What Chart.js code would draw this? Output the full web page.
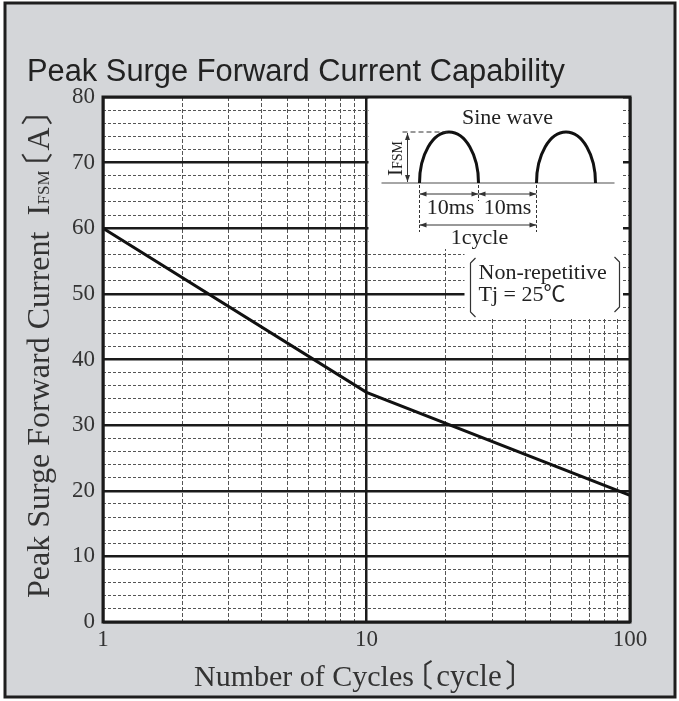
<!DOCTYPE html>
<html>
<head>
<meta charset="utf-8">
<script src="https://cdn.jsdelivr.net/npm/chart.js@4.4.1/dist/chart.umd.min.js"></script>
<style>
  html, body { margin: 0; padding: 0; background: #fff; }
  #wrap { width: 679px; height: 701px; }
</style>
</head>
<body>
<div id="wrap"><canvas id="surgeChart" width="679" height="701"></canvas></div>
<script>
// ---- values ----
const cycles = [1, 10, 100];
const ifsm = [60, 35, 19.3];
const xTickLabels = [1, 10, 100];
const yTickLabels = [0, 10, 20, 30, 40, 50, 60, 70, 80];

const titleText = "Peak Surge Forward Current Capability";
// [text, font size, gap before the ink of this run]
const xTitleRuns = [["Number of Cycles", 30, 0], ["〔", 31, 11], ["cycle", 31, 5], ["〕", 31, 5]];
const yTitleRuns = [["Peak Surge Forward Current", 32, 0], ["I", 32, 17], ["FSM", 17, 1],
                    ["〔", 32, 8], ["A", 32, 3], ["〕", 32, 3]];

const SERIF = '"Liberation Serif", "Noto Sans CJK JP", serif';
const SANS = '"Liberation Sans", Arial, sans-serif';
const INK = "#222";

// gridline positions on the log axis: 1..9, 10..90, 100
function logGrid(min, max) {
  const out = [];
  for (let d = min; d < max; d *= 10) {
    for (let m = 1; m <= 9; m++) out.push({ value: m * d });
  }
  out.push({ value: max });
  return out;
}

// minor gridlines every 2 A
function linGrid(min, max, step) {
  const out = [];
  for (let v = min; v <= max; v += step) out.push({ value: v });
  return out;
}

const isDecade = v => Math.abs(Math.log10(v) - Math.round(Math.log10(v))) < 1e-9;

// draws runs of text packed by their ink boxes, starting at u = 0 on the baseline
function drawRuns(ctx, runs) {
  let u = 0;
  runs.forEach(([txt, size, gap]) => {
    ctx.font = size + "px " + SERIF;
    const m = ctx.measureText(txt);
    u += gap;
    ctx.fillText(txt, u + m.actualBoundingBoxLeft, 0);
    u += m.actualBoundingBoxLeft + m.actualBoundingBoxRight;
  });
}

function arrowHead(ctx, x, y, dx, dy) {
  const len = 7, w = 2.5;
  ctx.beginPath();
  ctx.moveTo(x, y);
  ctx.lineTo(x - dx * len - dy * w, y - dy * len + dx * w);
  ctx.lineTo(x - dx * len + dy * w, y - dy * len - dx * w);
  ctx.closePath();
  ctx.fill();
}

function dimArrow(ctx, x1, y1, x2, y2) {
  const L = Math.hypot(x2 - x1, y2 - y1);
  const dx = (x2 - x1) / L, dy = (y2 - y1) / L;
  ctx.beginPath();
  ctx.moveTo(x1, y1);
  ctx.lineTo(x2, y2);
  ctx.stroke();
  arrowHead(ctx, x2, y2, dx, dy);
  arrowHead(ctx, x1, y1, -dx, -dy);
}

// page frame, grey card, white plot area, titles
const framePlugin = {
  id: "frame",
  beforeDraw(chart) {
    const { ctx, chartArea: ca } = chart;
    ctx.save();
    ctx.fillStyle = "#fff";
    ctx.fillRect(0, 0, chart.width, chart.height);
    ctx.fillStyle = "#d4d6d9";
    ctx.fillRect(5, 3, 670, 694);
    ctx.strokeStyle = "#1e1e1e";
    ctx.lineWidth = 3;
    ctx.strokeRect(5, 3, 670, 694);
    ctx.fillStyle = "#fff";
    ctx.fillRect(ca.left, ca.top, ca.right - ca.left, ca.bottom - ca.top);
    ctx.restore();
  },
  afterDraw(chart) {
    const { ctx, chartArea: ca } = chart;
    ctx.save();
    ctx.fillStyle = INK;
    ctx.font = "31px " + SANS;
    ctx.textBaseline = "alphabetic";
    const tw = ctx.measureText(titleText).width;
    ctx.translate(27, 81);
    ctx.scale(538 / tw, 1);
    ctx.fillText(titleText, 0, 0);
    ctx.restore();

    // x axis title
    ctx.save();
    ctx.fillStyle = "#333";
    ctx.textBaseline = "alphabetic";
    ctx.translate(194, 686);
    drawRuns(ctx, xTitleRuns);
    ctx.restore();

    // y axis title, reading bottom to top
    ctx.save();
    ctx.fillStyle = "#333";
    ctx.textBaseline = "alphabetic";
    ctx.translate(49, 598);
    ctx.rotate(-Math.PI / 2);
    drawRuns(ctx, yTitleRuns);
    ctx.restore();

    drawInset(chart);

    ctx.save();
    ctx.strokeStyle = "#1a1a1a";
    ctx.lineWidth = 3;
    ctx.strokeRect(ca.left, ca.top, ca.right - ca.left, ca.bottom - ca.top);
    ctx.restore();
  }
};

function drawInset(chart) {
  const { ctx, chartArea: ca } = chart;
  const ox = chart.scales.x.getPixelForValue(10) + 2;
  const oy = ca.top;
  ctx.save();
  ctx.fillStyle = "#fff";
  ctx.fillRect(ox, oy, ca.right - ox - 7, 152);
  ctx.fillRect(ox + 96, oy + 152, ca.right - ox - 103, 70);

  ctx.fillStyle = INK;
  ctx.strokeStyle = INK;
  ctx.font = "22px " + SERIF;
  ctx.textAlign = "center";
  ctx.textBaseline = "middle";
  ctx.fillText("Sine wave", ox + 139, oy + 21);

  // zero line
  ctx.strokeStyle = "#888";
  ctx.lineWidth = 1.5;
  ctx.beginPath();
  ctx.moveTo(ox + 13, oy + 86);
  ctx.lineTo(ox + 246, oy + 86);
  ctx.stroke();

  // half waves
  ctx.strokeStyle = "#111";
  ctx.lineWidth = 3;
  [80.5, 197.5].forEach(cx => {
    ctx.beginPath();
    ctx.ellipse(ox + cx, oy + 86, 29.5, 51, 0, Math.PI, 2 * Math.PI);
    ctx.stroke();
  });

  // IFSM dimension
  ctx.strokeStyle = "#333";
  ctx.fillStyle = "#333";
  ctx.lineWidth = 1;
  ctx.setLineDash([5, 3]);
  ctx.beginPath();
  ctx.moveTo(ox + 34, oy + 35);
  ctx.lineTo(ox + 80, oy + 35);
  ctx.stroke();
  ctx.setLineDash([]);
  dimArrow(ctx, ox + 39, oy + 36, ox + 39, oy + 85);

  ctx.save();
  ctx.translate(ox + 33, oy + 79);
  ctx.rotate(-Math.PI / 2);
  ctx.textAlign = "left";
  ctx.textBaseline = "alphabetic";
  ctx.fillStyle = INK;
  ctx.font = "21px " + SERIF;
  ctx.fillText("I", 0, 0);
  const iw = ctx.measureText("I").width;
  ctx.font = "14px " + SERIF;
  ctx.fillText("FSM", iw, 0);
  ctx.restore();

  // extension lines
  ctx.setLineDash([3, 2]);
  ctx.beginPath();
  ctx.moveTo(ox + 51, oy + 88); ctx.lineTo(ox + 51, oy + 135);
  ctx.moveTo(ox + 110, oy + 88); ctx.lineTo(ox + 110, oy + 104);
  ctx.moveTo(ox + 168, oy + 88); ctx.lineTo(ox + 168, oy + 135);
  ctx.stroke();
  ctx.setLineDash([]);

  dimArrow(ctx, ox + 51, oy + 97, ox + 110, oy + 97);
  dimArrow(ctx, ox + 110, oy + 97, ox + 168, oy + 97);
  dimArrow(ctx, ox + 51, oy + 128, ox + 168, oy + 128);

  ctx.fillStyle = INK;
  ctx.font = "22px " + SERIF;
  ctx.textAlign = "center";
  ctx.fillText("10ms", ox + 82, oy + 111);
  ctx.fillText("10ms", ox + 139, oy + 111);
  ctx.fillText("1cycle", ox + 111, oy + 141);

  // conditions in brackets
  ctx.strokeStyle = "#333";
  ctx.lineWidth = 1.2;
  ctx.beginPath();
  ctx.moveTo(ox + 107, oy + 161); ctx.lineTo(ox + 102, oy + 166);
  ctx.lineTo(ox + 102, oy + 215); ctx.lineTo(ox + 107, oy + 220);
  ctx.moveTo(ox + 246, oy + 160); ctx.lineTo(ox + 251, oy + 165);
  ctx.lineTo(ox + 251, oy + 210); ctx.lineTo(ox + 246, oy + 215);
  ctx.stroke();

  ctx.textAlign = "left";
  ctx.fillText("Non-repetitive", ox + 110, oy + 176);
  ctx.fillText("Tj = 25℃", ox + 110, oy + 198);
  ctx.restore();
}

const chart = new Chart(document.getElementById("surgeChart"), {
  type: "line",
  data: {
    datasets: [{
      data: cycles.map((c, i) => ({ x: c, y: ifsm[i] })),
      borderColor: "#111",
      borderWidth: 3,
      pointRadius: 0,
      tension: 0
    }]
  },
  options: {
    responsive: false,
    animation: false,
    devicePixelRatio: 1,
    layout: { padding: { top: 97, right: 49, left: 0, bottom: 0 } },
    plugins: { legend: { display: false }, tooltip: { enabled: false } },
    scales: {
      x: {
        type: "logarithmic",
        min: 1,
        max: 100,
        afterBuildTicks: axis => { axis.ticks = logGrid(1, 100); },
        afterFit: axis => { axis.height = 79; },
        ticks: {
          autoSkip: false,
          maxRotation: 0,
          padding: 4,
          color: "#333",
          font: { family: SERIF, size: 23 },
          callback: v => xTickLabels.includes(v) ? String(v) : ""
        },
        grid: {
          drawTicks: false,
          color: c => isDecade(c.tick.value) ? "#1a1a1a" : "#555",
          lineWidth: c => isDecade(c.tick.value) ? 2.5 : 1
        },
        border: {
          display: false,
          dash: c => isDecade(c.tick.value) ? [] : [4, 2]
        }
      },
      y: {
        type: "linear",
        min: 0,
        max: 80,
        afterBuildTicks: axis => { axis.ticks = linGrid(0, 80, 2); },
        afterFit: axis => { axis.width = 103; },
        ticks: {
          autoSkip: false,
          padding: 8,
          color: "#333",
          font: { family: SERIF, size: 23 },
          callback: v => yTickLabels.includes(v) ? String(v) : ""
        },
        grid: {
          drawTicks: false,
          color: c => c.tick.value % 10 === 0 ? "#1a1a1a" : "#555",
          lineWidth: c => c.tick.value % 10 === 0 ? 2.5 : 1
        },
        border: {
          display: false,
          dash: c => c.tick.value % 10 === 0 ? [] : [3, 2]
        }
      }
    }
  },
  plugins: [framePlugin]
});
</script>
</body>
</html>
